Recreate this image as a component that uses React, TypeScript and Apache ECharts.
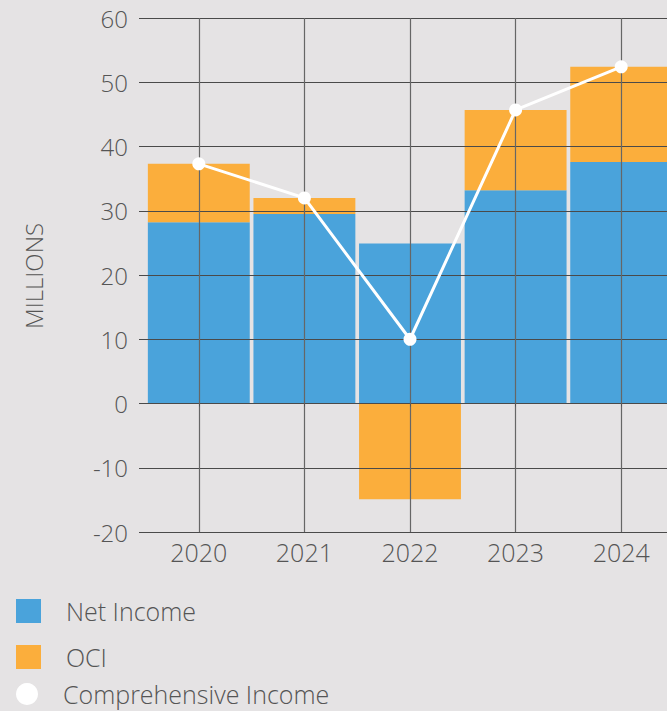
import React, { useEffect, useRef } from "react";
import * as echarts from "echarts";

const years = ["2020", "2021", "2022", "2023", "2024"];
const netIncome = [28.2, 29.5, 24.9, 33.2, 37.6];
const oci = [9.1, 2.5, -14.9, 12.5, 14.8];
const comprehensive = [37.3, 32.0, 10.0, 45.7, 52.4];
const yTicks = { min: -20, max: 60, interval: 10 };

const BG = "#e5e3e4";
const TEXT = "#555555";
const FONT = "'Open Sans', 'Noto Sans', sans-serif";

export default function App() {
  const ref = useRef<HTMLDivElement>(null);
  useEffect(() => {
    if (!ref.current) return;
    const chart = echarts.init(ref.current, null, { renderer: "svg" });
    const legendText = (lh: number) => ({
      color: TEXT,
      fontSize: 25,
      fontFamily: FONT,
      fontWeight: 300,
      lineHeight: lh,
      padding: [0, 0, 4, 20],
    });
    chart.setOption({
      animation: false,
      backgroundColor: BG,
      grid: { left: 146, right: 0, top: 18, bottom: 179, containLabel: false },
      xAxis: {
        type: "category",
        data: years,
        z: 3,
        boundaryGap: true,
        axisLine: { show: false },
        axisTick: { show: true, alignWithLabel: true, length: 3, lineStyle: { color: "#555" } },
        axisLabel: { color: TEXT, fontSize: 25, fontFamily: FONT, fontWeight: 300, margin: 7 },
        splitLine: { show: true, alignWithLabel: true, lineStyle: { color: "#666", width: 1.2 } },
      },
      yAxis: {
        type: "value",
        min: yTicks.min,
        max: yTicks.max,
        interval: yTicks.interval,
        z: 3,
        axisLine: { show: false },
        axisTick: { show: true, length: 7, lineStyle: { color: "#4a4a4a" } },
        axisLabel: { color: TEXT, fontSize: 24, fontFamily: FONT, fontWeight: 300, margin: 18 },
        splitLine: { show: true, lineStyle: { color: "#4a4a4a", width: 1 } },
      },
      legend: [
        { data: [{ name: "Net Income", icon: "rect" }], orient: "vertical", left: 11, top: 592, itemWidth: 25, itemHeight: 24, textStyle: legendText(24) },
        { data: [{ name: "OCI", icon: "rect" }], orient: "vertical", left: 11, top: 638, itemWidth: 25, itemHeight: 24, textStyle: legendText(24) },
        { data: [{ name: "Comprehensive Income", icon: "circle" }], orient: "vertical", left: 11, top: 676, itemWidth: 22, itemHeight: 22, textStyle: legendText(22) },
      ],
      graphic: [
        {
          type: "text",
          x: 33,
          y: 276,
          rotation: Math.PI / 2,
          style: { text: "MILLIONS", fill: TEXT, fontSize: 24, fontFamily: FONT, fontWeight: 300, align: "center", verticalAlign: "middle" },
        },
      ],
      series: [
        {
          name: "Net Income",
          type: "bar",
          stack: "total",
          data: netIncome,
          barCategoryGap: "3.5%",
          itemStyle: { color: "#4aa3db" },
          z: 2,
        },
        {
          name: "OCI",
          type: "bar",
          stack: "total",
          data: oci,
          barCategoryGap: "3.5%",
          itemStyle: { color: "#fbae3c" },
          z: 2,
        },
        {
          name: "Comprehensive Income",
          type: "line",
          data: comprehensive,
          symbol: "circle",
          symbolSize: 13,
          lineStyle: { color: "#ffffff", width: 3 },
          itemStyle: { color: "#ffffff" },
          z: 10,
        },
      ],
    });
    return () => chart.dispose();
  }, []);
  return (
    <div style={{ position: "fixed", left: 0, top: 0, width: 667, height: 711, background: BG, overflow: "hidden" }}>
      <div ref={ref} style={{ width: 674, height: 711 }} />
    </div>
  );
}
